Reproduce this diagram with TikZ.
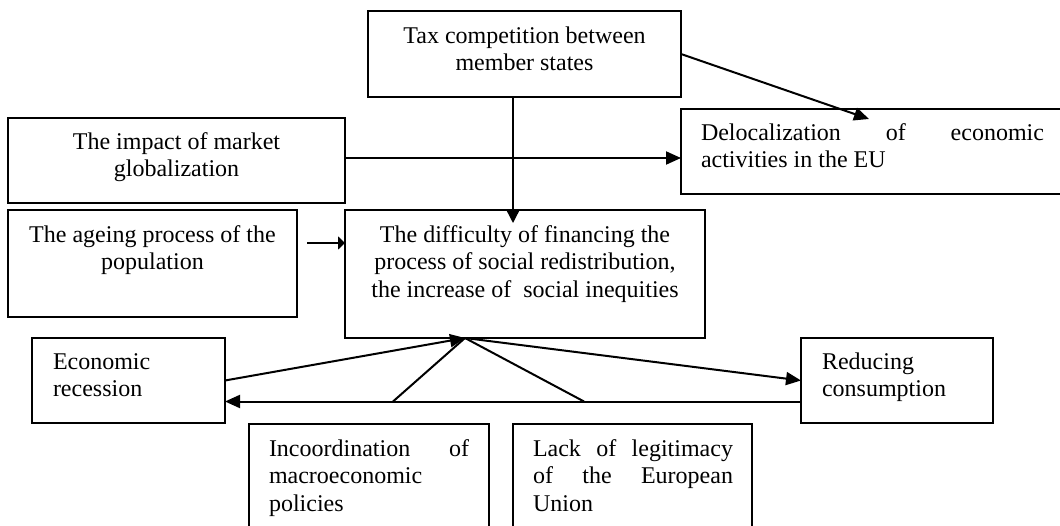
\documentclass[tikz,border=0pt]{standalone}
\usepackage{fontspec}
\setmainfont{Liberation Serif}
\usetikzlibrary{arrows.meta,calc}
\begin{document}
\begin{tikzpicture}[x=1pt,y=-1pt,
  box/.style={draw, line width=2.1pt, rectangle, inner sep=0pt, outer sep=0pt, anchor=north west},
  txt/.style={inner sep=0pt, outer sep=0pt, font=\fontsize{24}{27.5}\selectfont},
  conn/.style={line width=2pt},
  arr/.style={conn, -{Triangle[length=15pt,width=13pt]}},
  thinarr/.style={line width=1.4pt, -{Triangle[length=13pt,width=13pt]}},
]
\useasboundingbox (0,0) rectangle (1060,526);
% boxes
\node[box, minimum width=313pt, minimum height=86pt] (tax) at (368,11) {};
\node[box, minimum width=337pt, minimum height=85pt] (market) at (8,118) {};
\node[box, minimum width=390pt, minimum height=85pt] (deloc) at (681,109) {};
\node[box, minimum width=289pt, minimum height=107pt] (ageing) at (8,210) {};
\node[box, minimum width=360pt, minimum height=128pt] (central) at (345,210) {};
\node[box, minimum width=193pt, minimum height=85pt] (recession) at (32,338) {};
\node[box, minimum width=192pt, minimum height=85pt] (reducing) at (801,338) {};
\node[box, minimum width=240pt, minimum height=120pt] (incoord) at (249,424) {};
\node[box, minimum width=239pt, minimum height=120pt] (lack) at (513,424) {};
% texts
\node[txt, anchor=north, align=center] (taxt) at ([yshift=-13pt]tax.north) {\strut Tax competition between\\member states};
\node[txt, anchor=north, align=center] (markett) at ([yshift=-12pt]market.north) {\strut The impact of market\\globalization};
\node[txt, anchor=north west, text width=343pt, align=justify] (deloct) at ([xshift=20pt,yshift=-12pt]deloc.north west) {\strut Delocalization of economic\linebreak activities in the EU};
\node[txt, anchor=north, align=center] (ageingt) at ([yshift=-13pt]ageing.north) {\strut The ageing process of the\\population};
\node[txt, anchor=north, align=center] (centralt) at ([yshift=-13pt]central.north) {\strut The difficulty of financing the\\process of social redistribution,\\the increase of\ \ social inequities};
\node[txt, anchor=north west, align=left] (recessiont) at ([xshift=21pt,yshift=-12pt]recession.north west) {\strut Economic\\recession};
\node[txt, anchor=north west, align=left] (reducingt) at ([xshift=21pt,yshift=-12pt]reducing.north west) {\strut Reducing\\consumption};
\node[txt, anchor=north west, text width=200pt, align=justify] (incoordt) at ([xshift=20pt,yshift=-13pt]incoord.north west) {\strut Incoordination of\linebreak macroeconomic\linebreak policies};
\node[txt, anchor=north west, text width=200pt, align=justify] (lackt) at ([xshift=20pt,yshift=-13pt]lack.north west) {\strut Lack of legitimacy\linebreak of the European\linebreak Union};
% coordinates
\coordinate (apex) at ($(central.south west)+(120,0)$);
\coordinate (h1) at (393,401.5);
\coordinate (h2) at (584,401.5);
% connectors
\draw[thinarr] ([xshift=-11.5pt]tax.south) -- ([xshift=-12pt,yshift=-13pt]central.north);
\draw[arr] (tax.east) -- ($(deloc.north west)+(188,10)$);
\draw[arr] ([yshift=2.5pt]market.east) -- ([yshift=2.5pt]market.east -| deloc.west);
\draw[conn, -{Triangle[length=7pt,width=13pt]}] ([xshift=10pt,yshift=20.5pt]ageing.east) -- ([yshift=20.5pt]ageing.east -| central.west);
\draw[arr] (recession.east) -- (apex);
\draw[arr] (apex) -- (reducing.west);
\draw[arr] ([yshift=-21pt]reducing.west) -- ([yshift=-21pt]recession.east);
\draw[conn] (h1) -- (apex);
\draw[conn] (h2) -- (apex);
\end{tikzpicture}
\end{document}
